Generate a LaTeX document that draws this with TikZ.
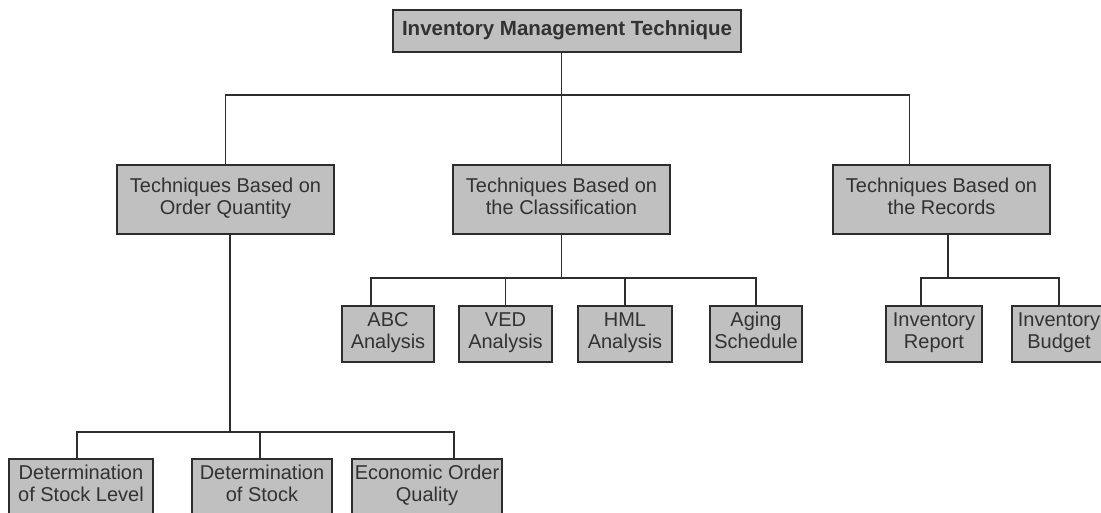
\documentclass[tikz,border=0pt]{standalone}
\usepackage{fontspec}
\setmainfont{Liberation Sans}
\usetikzlibrary{positioning}
\definecolor{boxgray}{RGB}{192,192,192}
\definecolor{linegray}{RGB}{45,45,45}
\definecolor{textgray}{RGB}{50,50,50}

\begin{document}
\begin{tikzpicture}[x=1pt, y=-1pt,
    box/.style={draw=linegray, line width=1.9pt, fill=boxgray, text=textgray,
        inner sep=0pt, align=center, font=\fontsize{20}{22}\selectfont,
        execute at begin node=\strut, execute at end node=\strut},
    midbox/.style={box, minimum width=217pt, minimum height=69pt},
    smallbox/.style={box, minimum height=56pt},
    link/.style={draw=linegray, line width=1.8pt}
]

% Frame (picture is cut at the right and bottom)
\useasboundingbox (0,0) rectangle (1101,512);
\clip (0,0) rectangle (1101,512);
\fill[white] (0,0) rectangle (1101,512);

% === Root ===
\node[box, font=\fontsize{20.5}{22}\selectfont\bfseries, minimum width=348pt, minimum height=42pt] (top) at (567,31) {Inventory Management Technique};

% === Second level ===
\node[midbox] (qty) at (225.5,199.5) {Techniques Based on\\Order Quantity};
\node[midbox] (cls) at (561.5,199.5) {Techniques Based on\\the Classification};
\node[midbox] (rec) at (941.5,199.5) {Techniques Based on\\the Records};

% === Classification techniques ===
\node[smallbox, minimum width=92pt] (abc) at (388,334) {ABC\\Analysis};
\node[smallbox, minimum width=93pt] (ved) at (505.5,334) {VED\\Analysis};
\node[smallbox, minimum width=94pt] (hml) at (625,334) {HML\\Analysis};
\node[smallbox, minimum width=92pt] (aging) at (756,334) {Aging\\Schedule};

% === Record techniques ===
\node[smallbox, minimum width=96pt] (report) at (934,334) {Inventory\\Report};
\node[smallbox, minimum width=94pt] (budget) at (1059,334) {Inventory\\Budget};

% === Order quantity techniques ===
\node[smallbox, minimum width=144pt] (level) at (81,487) {Determination\\of Stock Level};
\node[smallbox, minimum width=140pt] (stock) at (262,487) {Determination\\of Stock};
\node[smallbox, minimum width=150pt] (eoq) at (427,487) {Economic Order\\Quality};

% Bar heights and off-centre joints
\coordinate (bar1) at (0,95);
\coordinate (bar2) at (0,278);
\coordinate (bar3) at (0,432);
\coordinate (recin) at ([xshift=-32pt]rec.north);
\coordinate (recout) at ([xshift=6.5pt]rec.south);
\coordinate (qtyout) at ([xshift=4.5pt]qty.south);
\coordinate (abcin) at ([xshift=-17pt]abc.north);
\coordinate (reportin) at ([xshift=-13pt]report.north);
\coordinate (levelin) at ([xshift=-4pt]level.north);
\coordinate (stockin) at ([xshift=-2pt]stock.north);
\coordinate (eoqin) at ([xshift=27pt]eoq.north);

% Root to second level
\draw[link] (cls.north |- top.south) -- (cls.north);
\draw[link] (qty.north) -- (qty.north |- bar1) -- (recin |- bar1) -- (recin);

% Classification branch
\draw[link] (cls.south) -- (cls.south |- bar2);
\draw[link] (abcin) -- (abcin |- bar2) -- (aging.north |- bar2) -- (aging.north);
\foreach \n in {ved,hml}
    \draw[link] (\n.north) -- (\n.north |- bar2);

% Records branch
\draw[link] (recout) -- (recout |- bar2);
\draw[link] (reportin) -- (reportin |- bar2) -- (budget.north |- bar2) -- (budget.north);

% Order quantity branch
\draw[link] (qtyout) -- (qtyout |- bar3);
\draw[link] (levelin) -- (levelin |- bar3) -- (eoqin |- bar3) -- (eoqin);
\draw[link] (stockin) -- (stockin |- bar3);

\end{tikzpicture}
\end{document}
